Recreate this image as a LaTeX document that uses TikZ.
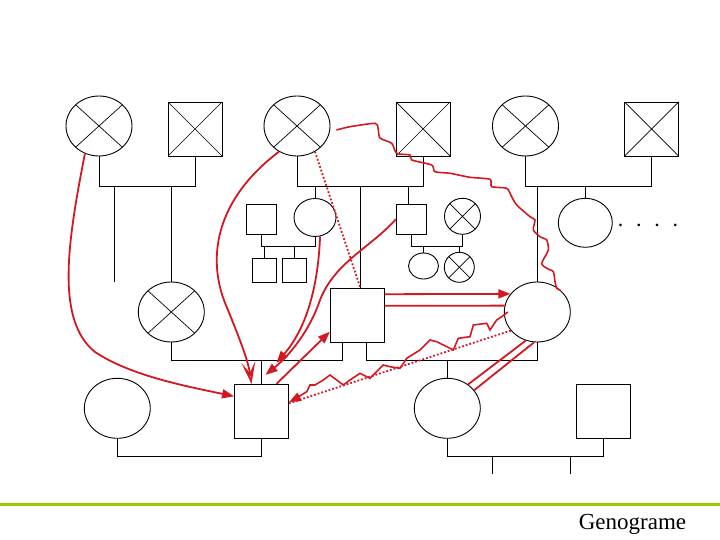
\documentclass[tikz,border=0pt]{standalone}
\usepackage{fontspec}
\setmainfont{Liberation Serif}
\usetikzlibrary{shapes.geometric,arrows.meta}
\definecolor{relred}{RGB}{212,24,34}
\definecolor{barline}{RGB}{153,204,0}
\tikzset{
  female/.style 2 args={ellipse, draw, inner sep=0pt, minimum width=#1, minimum height=#2},
  male/.style={rectangle, draw, inner sep=0pt, minimum size=#1},
  dead/.style={path picture={\draw[line width=0.7pt] (path picture bounding box.north west) -- (path picture bounding box.south east) (path picture bounding box.north east) -- (path picture bounding box.south west);}},
  rel/.style={draw=relred, line width=1.8pt},
  tip/.style={-{Triangle[length=12pt,width=9pt]}}
}
\begin{document}
\begin{tikzpicture}[line width=0.9pt]
\useasboundingbox (0pt,0pt) rectangle (720pt,-540pt);
\node[female={66pt}{60pt}, dead] (gmA) at (99pt,-126pt) {};
\node[male=54pt, dead] (gfA) at (195pt,-129pt) {};
\node[female={66pt}{60pt}, dead] (gmB) at (297pt,-126pt) {};
\node[male=54pt, dead] (gfB) at (423pt,-129pt) {};
\node[female={66pt}{60pt}, dead] (gmC) at (525.5pt,-126pt) {};
\node[male=54pt, dead] (gfC) at (651.5pt,-129pt) {};
\node[male=30pt] (unc) at (261.7pt,-219.3pt) {};
\node[female={42pt}{38pt}] (aunt) at (315pt,-217.5pt) {};
\node[male=24pt] (cous1) at (264.5pt,-270.3pt) {};
\node[male=24pt] (cous2) at (294.5pt,-270.3pt) {};
\node[male=30pt] (unc2) at (411.3pt,-219.3pt) {};
\node[female={36pt}{36pt}, dead] (aunt2) at (462.5pt,-216.3pt) {};
\node[female={30pt}{26pt}] (cous3) at (423.5pt,-266pt) {};
\node[female={30pt}{30pt}, dead] (cous4) at (459.3pt,-267.3pt) {};
\node[female={54pt}{49pt}] (sis) at (585.3pt,-222.8pt) {};
\node[font=\bfseries\fontsize{16}{16}\selectfont, inner sep=0pt] (more) at (648pt,-225pt) {.\hspace{14.3pt}.\hspace{14.3pt}.\hspace{14.3pt}.};
\node[female={66pt}{60pt}, dead] (wife1) at (171.3pt,-312pt) {};
\node[male=54pt] (dad) at (357.3pt,-315.2pt) {};
\node[female={66pt}{60pt}] (mom) at (537.3pt,-312pt) {};
\node[female={66pt}{60pt}] (spouse) at (117.3pt,-408.3pt) {};
\node[male=54pt] (ego) at (261.5pt,-411.3pt) {};
\node[female={66pt}{60pt}] (sister) at (447.3pt,-408.3pt) {};
\node[male=54pt] (bil) at (603.3pt,-411.3pt) {};
\coordinate (lost) at (114pt,-282pt);
\coordinate (kidA) at (492.7pt,-474.3pt);
\coordinate (kidB) at (570.3pt,-474.3pt);
\draw (gmA.south) -- ++(0pt,-30pt) coordinate (mA) -| (gfA.south);
\draw (lost) -- (lost |- mA);
\draw (wife1.north) -- (wife1.north |- mA);
\draw (gmB.south) -- ++(0pt,-30pt) coordinate (mB) -| (gfB.south);
\draw (aunt.north) -- (aunt.north |- mB);
\draw ([xshift=3pt]dad.north) -- ([xshift=3pt]dad.north |- mB);
\draw ([xshift=-3pt]unc2.north) -- ([xshift=-3pt]unc2.north |- mB);
\draw (unc.south) -- ++(0pt,-12pt) coordinate (mU) -| (aunt.south);
\draw (cous1.north) -- (cous1.north |- mU);
\draw (cous2.north) -- (cous2.north |- mU);
\draw (unc2.south) -- ++(0pt,-12pt) coordinate (mU2) -| (aunt2.south);
\draw (cous3.north) -- (cous3.north |- mU2);
\draw (cous4.north) -- (cous4.north |- mU2);
\draw (gmC.south) -- ++(0pt,-30pt) coordinate (mC) -| (gfC.south);
\draw (mom.north) -- (mom.north |- mC);
\draw (sis.north) -- (sis.north |- mC);
\draw (wife1.south) -- ++(0pt,-18pt) coordinate (mD) -| ([xshift=-15pt]dad.south);
\draw (ego.north) -- (ego.north |- mD);
\draw ([xshift=9pt]dad.south) -- ++(0pt,-18pt) coordinate (mE) -| (mom.south);
\draw (sister.north) -- (sister.north |- mE);
\draw (spouse.south) -- ++(0pt,-18pt) coordinate (mF) -| (ego.south);
\draw (sister.south) -- ++(0pt,-18pt) coordinate (mG) -| (bil.south);
\draw (kidA) -- (kidA |- mG);
\draw (kidB) -- (kidB |- mG);
\draw[rel, tip] (gmA.243) .. controls (68pt,-240pt) and (55pt,-320pt) .. (95pt,-352pt) .. controls (130pt,-375pt) and (180pt,-385pt) .. ([yshift=15pt]ego.west);
\draw[rel, -{Stealth[open,length=22pt,width=14pt,inset=11pt]}] (gmB.235) .. controls (215pt,-200pt) and (205pt,-260pt) .. (228pt,-310pt) .. controls (240pt,-340pt) and (248pt,-360pt) .. ([xshift=-10pt]ego.north);
\draw[rel, tip] (aunt.285) .. controls (318pt,-290pt) and (305pt,-330pt) .. ([xshift=15pt,yshift=21pt]ego.north);
\draw[rel, tip] (unc2.west) .. controls (370pt,-248pt) and (335pt,-262pt) .. (320pt,-300pt) .. controls (310pt,-330pt) and (290pt,-355pt) .. ([xshift=4pt,yshift=9pt]ego.north);
\draw[rel, tip] ([xshift=15pt]ego.north) -- ([yshift=-16.5pt]dad.west);
\draw[rel, dotted] (gmB.305) -- ([xshift=3pt]dad.north);
\draw[rel, line width=1.6pt] plot[smooth, tension=0.4] coordinates {([xshift=6pt,yshift=-4pt]gmB.east) (350pt,-126.7pt) (375pt,-123.3pt) (378pt,-128pt) (380pt,-138pt) (391.7pt,-143.3pt) (396.7pt,-153.3pt) (410pt,-155pt) (411.7pt,-160pt) (431.7pt,-165pt) (435pt,-171.7pt) (450pt,-173.3pt) (470pt,-177.3pt) (490pt,-179.3pt) (491.7pt,-186.7pt) (506.7pt,-188.3pt) (511.7pt,-196.7pt) (516.7pt,-205pt) (530pt,-216.7pt) (535pt,-220pt) (533.3pt,-230pt) (540pt,-236.7pt) (546.7pt,-240pt) (548.3pt,-250pt) (541.7pt,-263.3pt) (546.7pt,-268.3pt) (553.3pt,-271.7pt) (555pt,-281.7pt) (556.7pt,-288.3pt) (mom.north east)};
\draw[rel, tip] ([yshift=21pt]dad.east) -- (mom.146);
\draw[rel] ([yshift=9.5pt]dad.east) -- (mom.169);
\draw[rel, line width=1.6pt, tip] plot coordinates {([xshift=4pt]mom.west) (501.7pt,-316.7pt) (496.7pt,-320pt) (490pt,-330pt) (486.7pt,-323.3pt) (473.3pt,-325pt) (470pt,-336.7pt) (458.3pt,-338.3pt) (453.3pt,-350pt) (436.7pt,-341.7pt) (430pt,-340pt) (420pt,-350pt) (406.7pt,-358.3pt) (400pt,-368.3pt) (390pt,-366.7pt) (383.3pt,-365pt) (370pt,-378.3pt) (360pt,-373.3pt) (350pt,-380pt) (343.3pt,-385pt) (330pt,-375pt) (323.3pt,-380pt) (315pt,-385pt) (310pt,-385pt) (306.7pt,-391.7pt) (293.3pt,-400pt) ([yshift=9pt]ego.east)};
\draw[rel, dotted] (mom.215) -- ([yshift=8pt]ego.east);
\draw[rel] (mom.248) -- (sister.49);
\draw[rel] (mom.264) -- (sister.34);
\draw[barline, line width=3pt] (0pt,-504.3pt) -- (720pt,-504.3pt);
\node[anchor=base, font=\fontsize{23}{23}\selectfont] (title) at (632.5pt,-529pt) {Genograme};
\end{tikzpicture}
\end{document}
